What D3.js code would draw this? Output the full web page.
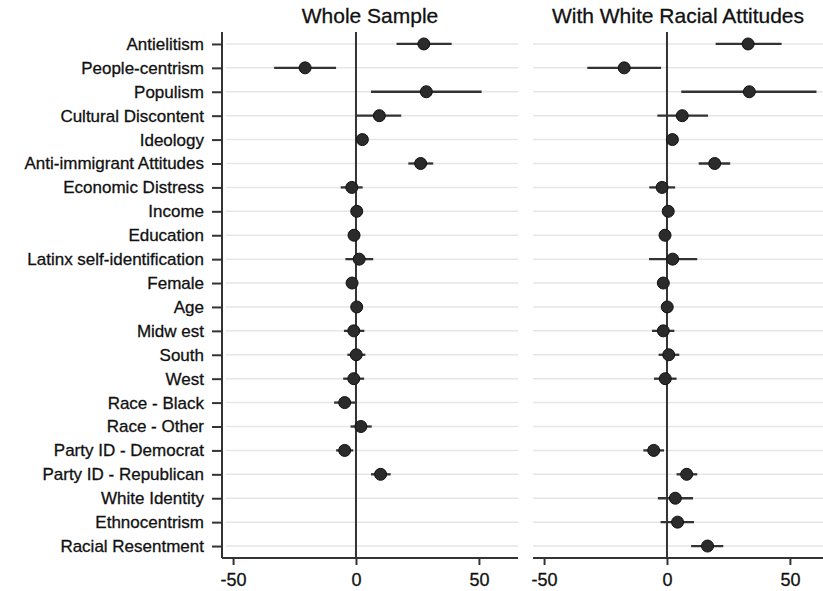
<!DOCTYPE html>
<html>
<head>
<meta charset="utf-8">
<script src="https://cdn.jsdelivr.net/npm/d3@7"></script>
<style>
  body { margin: 0; background: #fff; }
  text { font-family: "Liberation Sans", Arial, sans-serif; fill: #111; stroke: #111; stroke-width: 0.3px; }
</style>
</head>
<body>
<div id="chart"></div>
<script>
// row labels, top to bottom
var labels = ["Antielitism", "People-centrism", "Populism", "Cultural Discontent", "Ideology",
  "Anti-immigrant Attitudes", "Economic Distress", "Income", "Education", "Latinx self-identification",
  "Female", "Age", "Midw est", "South", "West", "Race - Black", "Race - Other",
  "Party ID - Democrat", "Party ID - Republican", "White Identity", "Ethnocentrism", "Racial Resentment"];

// whole sample: estimate, lower, upper (null = not in model)
var wholeEst = [27.6, -20.7, 28.6, 9.5, 2.6, 26.3, -1.7, 0.3, -0.8, 1.3, -1.6, 0.3, -0.9, 0.1, -0.9, -4.6, 2.0, -4.6, 10.0, null, null, null];
var wholeLo  = [16.5, -33.3, 6.1, 0.3, 1.8, 21.3, -6.2, 0.0, -1.2, -4.3, -2.8, 0.1, -4.9, -3.5, -5.2, -8.9, -2.2, -8.1, 6.1, null, null, null];
var wholeHi  = [38.9, -8.1, 51.1, 18.4, 3.4, 31.4, 2.7, 0.6, -0.4, 7.0, -0.4, 0.5, 3.4, 3.8, 3.3, 0.0, 6.4, -1.1, 14.1, null, null, null];

// with white racial attitudes
var whiteEst = [33.0, -17.4, 33.5, 6.2, 2.2, 19.4, -2.0, 0.5, -0.8, 2.3, -1.5, 0.1, -1.5, 0.7, -0.7, null, null, -5.4, 8.0, 3.4, 4.3, 16.5];
var whiteLo  = [19.8, -32.4, 5.8, -3.9, 1.4, 12.9, -7.2, 0.1, -1.3, -7.3, -3.2, -0.2, -6.1, -3.4, -5.3, null, null, -9.6, 3.9, -3.7, -2.6, 9.8];
var whiteHi  = [46.6, -2.4, 60.8, 16.7, 3.0, 25.7, 3.3, 0.9, -0.3, 12.3, 0.2, 0.4, 3.0, 5.0, 3.9, null, null, -1.2, 12.3, 10.6, 11.0, 22.9];

var xTicks = [-50, 0, 50];
var titles = ["Whole Sample", "With White Racial Attitudes"];

var width = 823, height = 591;
var plotTop = 32, plotBottom = 558;
var FONT = "'Liberation Sans', Arial, sans-serif";

var svg = d3.select("#chart").append("svg")
  .attr("width", width)
  .attr("height", height);

var y = d3.scalePoint().domain(labels).range([plotTop, plotBottom]).padding(0.5);

function panel(left, right, est, lo, hi, title, yAxis) {
  var x = d3.scaleLinear().domain([-54.5, 65.9]).range([left, left + 296]);
  var g = svg.append("g");

  // gridlines
  g.selectAll(".grid").data(labels).enter().append("line")
    .attr("x1", left + (yAxis ? 4 : 0)).attr("x2", right)
    .attr("y1", d => y(d)).attr("y2", d => y(d))
    .attr("stroke", "#e6e6e6").attr("stroke-width", 1.5);

  // zero line
  g.append("line")
    .attr("x1", x(0)).attr("x2", x(0))
    .attr("y1", plotTop).attr("y2", plotBottom)
    .attr("stroke", "#333").attr("stroke-width", 2);

  // bottom axis
  var xa = g.append("g")
    .attr("transform", "translate(0," + plotBottom + ")")
    .call(d3.axisBottom(x).tickValues(xTicks).tickSize(7).tickSizeOuter(0).tickFormat(d => String(d)));
  xa.attr("font-size", 18).attr("font-family", FONT);
  xa.select(".domain").attr("d", "M" + left + ",0H" + right).attr("stroke", "#333").attr("stroke-width", 2);
  xa.selectAll(".tick line").attr("stroke", "#333").attr("stroke-width", 2);
  xa.selectAll(".tick text").attr("dy", "1.0em").attr("fill", "#111");

  if (yAxis) {
    var ya = g.append("g")
      .attr("transform", "translate(" + left + ",0)")
      .call(d3.axisLeft(y).tickSize(10).tickSizeOuter(0).tickPadding(8));
    ya.attr("font-size", 17).attr("font-family", FONT);
    ya.select(".domain").attr("d", "M0," + plotTop + "V" + plotBottom).attr("stroke", "#333").attr("stroke-width", 2);
    ya.selectAll(".tick line").attr("stroke", "#333").attr("stroke-width", 2);
    ya.selectAll(".tick text").attr("fill", "#111");
  }

  var rows = labels.map((d, i) => ({ label: d, est: est[i], lo: lo[i], hi: hi[i] }))
    .filter(d => d.est !== null);

  // confidence intervals
  g.selectAll(".ci").data(rows).enter().append("line")
    .attr("x1", d => x(d.lo)).attr("x2", d => x(d.hi))
    .attr("y1", d => y(d.label)).attr("y2", d => y(d.label))
    .attr("stroke", "#333").attr("stroke-width", 2.3);

  // point estimates
  g.selectAll(".pt").data(rows).enter().append("circle")
    .attr("cx", d => x(d.est)).attr("cy", d => y(d.label))
    .attr("r", 6)
    .attr("fill", "#2b2b2b").attr("stroke", "#111").attr("stroke-width", 1);

  g.append("text")
    .attr("x", (left + right) / 2).attr("y", 23)
    .attr("text-anchor", "middle").attr("font-size", 21)
    .text(title);
}

panel(222, 518, wholeEst, wholeLo, wholeHi, titles[0], true);
panel(533, 823, whiteEst, whiteLo, whiteHi, titles[1], false);
</script>
</body>
</html>
